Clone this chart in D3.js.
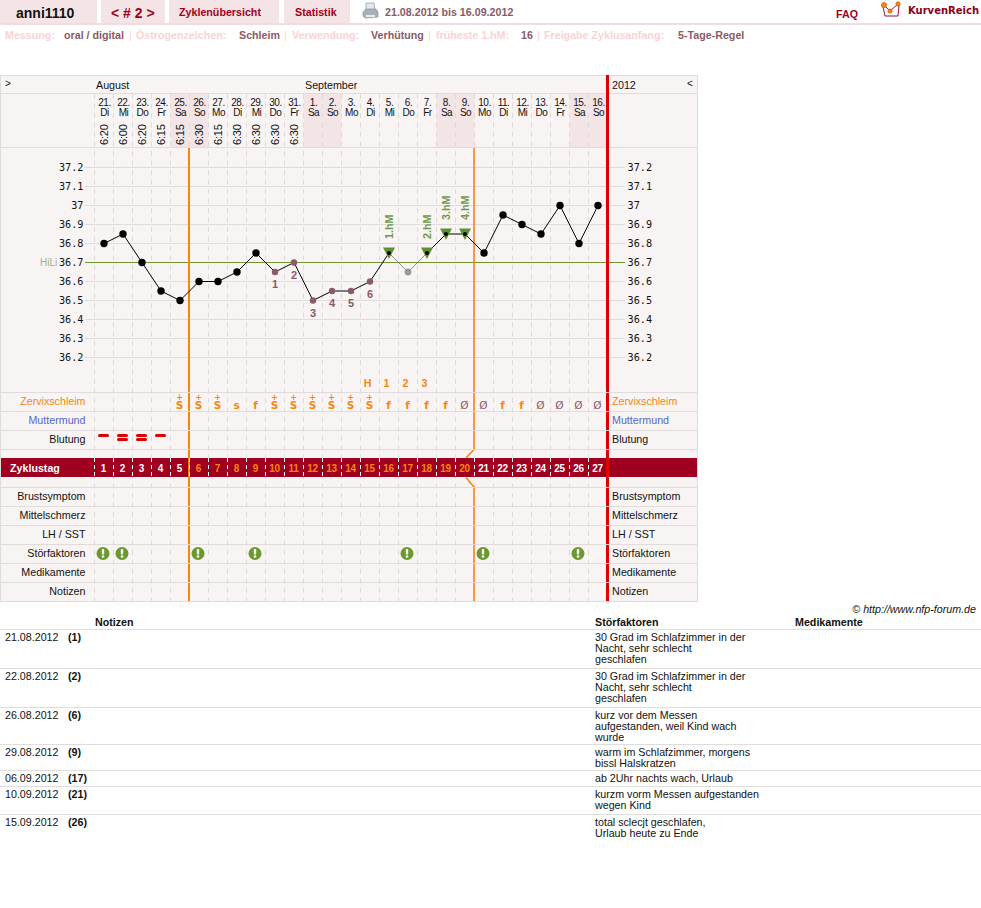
<!DOCTYPE html>
<html lang="de">
<head>
<meta charset="utf-8">
<title>anni1110 Zyklus 2</title>
<script src="https://cdn.jsdelivr.net/npm/d3@7/dist/d3.min.js"></script>
<style>
html,body{margin:0;padding:0;background:#fff;}
svg{display:block;font-family:"Liberation Sans",Arial,sans-serif;}
</style>
</head>
<body>
<svg id="chart" width="981" height="908"></svg>
<script>
// Cycle data
const cycleDays = d3.range(1, 28);
const dayNumbers = ["21.","22.","23.","24.","25.","26.","27.","28.","29.","30.","31.","1.","2.","3.","4.","5.","6.","7.","8.","9.","10.","11.","12.","13.","14.","15.","16."];
const weekdays = ["Di","Mi","Do","Fr","Sa","So","Mo","Di","Mi","Do","Fr","Sa","So","Mo","Di","Mi","Do","Fr","Sa","So","Mo","Di","Mi","Do","Fr","Sa","So"];
const measureTimes = ["6:20","6:00","6:20","6:15","6:15","6:30","6:15","6:30","6:30","6:30","6:30"];
const temperatures = [36.8,36.85,36.7,36.55,36.5,36.6,36.6,36.65,36.75,36.65,36.7,36.5,36.55,36.55,36.6,36.75,36.65,36.75,36.85,36.85,36.75,36.95,36.9,36.85,37,36.8,37];
const temperatureTicks = [37.2,37.1,37,36.9,36.8,36.7,36.6,36.5,36.4,36.3,36.2];
const coverLine = 36.7;
const lowDays = [10,11,12,13,14,15];
const lowLabels = ["1","2","3","4","5","6"];
const excludedDays = [17];
const peakDays = [16,18,19,20];
const peakLabels = ["1.hM","2.hM","3.hM","4.hM"];
const weekendDays = [5,6,12,13,19,20,26,27];
const mucus = [null,null,null,null,"S+","S+","S+","s","f","S+","S+","S+","S+","S+","S+","f","f","f","f","Ø","Ø","f","f","Ø","Ø","Ø","Ø"];
const peakCountDays = [15,16,17,18];
const peakCountLabels = ["H","1","2","3"];
const bleeding = [1,2,2,1];
const disturbanceDays = [1,2,6,9,17,21,26];
const upperRows = [["Zervixschleim","#f7860f"],["Muttermund","#5468c8"],["Blutung","#111"]];
const lowerRows = ["Brustsymptom","Mittelschmerz","LH / SST","Störfaktoren","Medikamente","Notizen"];
const noteRows = [
  ["21.08.2012","(1)",["30 Grad im Schlafzimmer in der","Nacht, sehr schlecht","geschlafen"]],
  ["22.08.2012","(2)",["30 Grad im Schlafzimmer in der","Nacht, sehr schlecht","geschlafen"]],
  ["26.08.2012","(6)",["kurz vor dem Messen","aufgestanden, weil Kind wach","wurde"]],
  ["29.08.2012","(9)",["warm im Schlafzimmer, morgens","bissl Halskratzen"]],
  ["06.09.2012","(17)",["ab 2Uhr nachts wach, Urlaub"]],
  ["10.09.2012","(21)",["kurzm vorm Messen aufgestanden","wegen Kind"]],
  ["15.09.2012","(26)",["total sclecjt geschlafen,","Urlaub heute zu Ende"]]
];
const noteRules = [629.5,668.5,707.5,744.5,770.5,786.5,814.5];
const settings = [
  ["Messung:",5,"oral / digital",64],["Östrogenzeichen:",136,"Schleim",239],
  ["Verwendung:",292,"Verhütung",371],["früheste 1.hM:",436,"16",521],
  ["Freigabe Zyklusanfang:",544,"5-Tage-Regel",678]
];
const settingSeparators = [129,284,428,537];

const svg = d3.select("#chart");
const PANEL = "#f9f4f4", RULE = "#e0dcdc", DASH = "#dedada", TINT = "#f3e4e6",
      ORANGE = "#f7860f", RED = "#dd0000", MAUVE = "#8a5a66", DARKRED = "#a0001f", GREEN = "#6a9a2e";
const BODY = 10.7;

// Day columns and temperature axis
const x = d3.scaleBand().domain(cycleDays).range([94.5, 607.5]);
const cx = d => x(d) + x.bandwidth() / 2;
const y = d3.scaleLinear().domain([36.2, 37.2]).range([357.5, 167.5]);

const text = (sel, s, px, py, o = {}) => sel.append("text").attr("x", px).attr("y", py)
  .attr("fill", o.fill || "#111").attr("font-size", o.size || BODY)
  .attr("font-weight", o.weight || null).attr("text-anchor", o.anchor || null)
  .attr("font-style", o.style || null).attr("font-family", o.family || null)
  .attr("letter-spacing", o.spacing == null ? null : o.spacing).text(s);
const hline = (g, x1, x2, yy, c = RULE, w = 1) => g.append("line").attr("x1", x1).attr("x2", x2)
  .attr("y1", yy).attr("y2", yy).attr("stroke", c).attr("stroke-width", w);

// Top navigation
const nav = svg.append("g");
[[0,97],[101,64],[169,110],[284,66]].forEach(([a, w]) =>
  nav.append("rect").attr("x", a).attr("y", 0).attr("width", w).attr("height", 23).attr("fill", "#f4e4e5"));
nav.append("rect").attr("x", 0).attr("y", 23).attr("width", 981).attr("height", 2).attr("fill", "#f4dcde");
text(nav, "anni1110", 16, 18, {size: 14, weight: "bold", fill: "#111"});
text(nav, "< # 2 >", 111, 18, {size: 14, weight: "bold", fill: DARKRED});
text(nav, "Zyklenübersicht", 179, 16, {weight: "bold", fill: DARKRED});
text(nav, "Statistik", 295, 16, {weight: "bold", fill: DARKRED});
text(nav, "21.08.2012 bis 16.09.2012", 385, 16, {weight: "bold", fill: MAUVE});
text(nav, "FAQ", 836, 18, {weight: "bold", fill: DARKRED});
text(nav, "KurvenReich", 908, 14, {size: 10, weight: "bold", fill: "#8a0020", family: "'DejaVu Sans'"});

// Printer icon
const printer = nav.append("g").attr("transform", "translate(363,3)");
printer.append("path").attr("d", "M3 0L11 0L12 7L3 7Z").attr("fill", "#e4e8ec").attr("stroke", "#8c98a4").attr("stroke-width", .7);
printer.append("path").attr("d", "M0 9L3 6L13 6L15 9L15 14L2 15L0 13Z").attr("fill", "#a8b0b8").attr("stroke", "#7d8790").attr("stroke-width", .6);
printer.append("rect").attr("x", 3).attr("y", 12).attr("width", 9).attr("height", 2).attr("fill", "#e8ecef");

// Logo mark
const logo = nav.append("g").attr("transform", "translate(881,2)");
logo.append("path").attr("d", "M0 14H24M19 0V17").attr("fill", "none").attr("stroke", "#eee");
logo.append("path").attr("d", "M2 5L4 14L17 14L18 3").attr("fill", "none").attr("stroke", "#a0104a").attr("stroke-width", 1);
logo.append("path").attr("d", "M3 3L9 9L17 2").attr("fill", "none").attr("stroke", "#a0104a").attr("stroke-width", 1);
[[3,3,2.6],[9,9,2.2],[17,2,2.2]].forEach(([a, b, r]) =>
  logo.append("circle").attr("cx", a).attr("cy", b).attr("r", r).attr("fill", "#f08a10").attr("stroke", "#c03020").attr("stroke-width", .5));

// Settings line
const settingsRow = svg.append("g");
settings.forEach(([k, kx, v, vx]) => {
  text(settingsRow, k, kx, 39, {weight: "bold", fill: "#fbd3d3"});
  text(settingsRow, v, vx, 39, {weight: "bold", fill: MAUVE});
});
settingSeparators.forEach(sx => text(settingsRow, "|", sx, 39, {fill: "#fbd3d3"}));

// Chart panel
const chart = svg.append("g");
chart.append("rect").attr("x", .5).attr("y", 75.5).attr("width", 697).attr("height", 526).attr("fill", PANEL).attr("stroke", RULE);
weekendDays.forEach(d => chart.append("rect").attr("x", x(d)).attr("y", 94).attr("width", x.bandwidth()).attr("height", 54).attr("fill", TINT));
hline(chart, 0, 697, 93.5);
hline(chart, 0, 697, 147.5);

// Temperature gridlines
temperatureTicks.forEach(t => hline(chart, 85, 625, y(t), RULE));

// Day separators
d3.range(0, 27).forEach(i => {
  const vx = Math.floor(94.5 + i * x.bandwidth()) + .5;
  chart.append("line").attr("x1", vx).attr("x2", vx).attr("y1", 94).attr("y2", 601)
    .attr("stroke", DASH).attr("stroke-dasharray", "5,4.5");
});

// Month and year captions
text(chart, ">", 5, 87, {size: 10});
text(chart, "August", 96, 89);
text(chart, "September", 305, 89);
text(chart, "2012", 612, 89);
text(chart, "<", 687, 87, {size: 10});

// Day header cells
cycleDays.forEach((d, i) => {
  text(chart, dayNumbers[i], cx(d) + .5, 105.5, {size: 10, anchor: "middle", spacing: -.5});
  text(chart, weekdays[i], cx(d) + .5, 115.5, {size: 10, anchor: "middle", spacing: -.5});
  if (measureTimes[i]) chart.append("text")
    .attr("transform", `translate(${cx(d) + 4},145) rotate(-90)`)
    .attr("font-size", 11).attr("fill", "#111").attr("letter-spacing", -.2).text(measureTimes[i]);
});

// Row labels both sides
const rowLabel = (s, ry, fill) => {
  text(chart, s, 85.5, ry, {anchor: "end", fill});
  text(chart, s, 612, ry, {fill});
};
upperRows.forEach(([s, c], i) => rowLabel(s, 405 + i * 19, c));
lowerRows.forEach((s, i) => rowLabel(s, 500 + i * 19));

// Temperature tick labels
const axisStyle = g => {
  g.select(".domain").remove();
  g.selectAll(".tick line").remove();
  g.selectAll("text").attr("font-family", "'DejaVu Sans Mono', monospace").attr("font-size", 10.2).attr("fill", "#111");
};
const tickFormat = d => String(d);
chart.append("g").attr("transform", "translate(83.5,0)")
  .call(d3.axisLeft(y).tickValues(temperatureTicks).tickFormat(tickFormat).tickSize(0).tickPadding(0)).call(axisStyle);
chart.append("g").attr("transform", "translate(627.5,0)")
  .call(d3.axisRight(y).tickValues(temperatureTicks).tickFormat(tickFormat).tickSize(0).tickPadding(0)).call(axisStyle);

// Cover line
hline(chart, 85, 625, y(coverLine), GREEN);
text(chart, "HiLi", 40, y(coverLine) + 3.5, {size: 10, fill: "#9cb08a"});

// Cycle day bar
chart.append("rect").attr("x", 1).attr("y", 458).attr("width", 696).attr("height", 19).attr("fill", DARKRED);
text(chart, "Zyklustag", 10, 472, {weight: "bold", fill: "#fff"});

// Phase boundaries
const orangeA = x(6) - .5, orangeB = x(21) - .5;
chart.append("line").attr("x1", orangeA).attr("x2", orangeA).attr("y1", 148).attr("y2", 601).attr("stroke", ORANGE).attr("stroke-width", 2);
chart.append("path").attr("d", `M${orangeB} 148V449.5L${orangeB - 8} 458`).attr("fill", "none").attr("stroke", ORANGE).attr("stroke-width", 1.6);
chart.append("path").attr("d", `M${orangeB - 8} 477.5L${orangeB} 487V601`).attr("fill", "none").attr("stroke", ORANGE).attr("stroke-width", 1.6);
const redX = x(27) + x.bandwidth();
chart.append("line").attr("x1", redX).attr("x2", redX).attr("y1", 75).attr("y2", 601).attr("stroke", RED).attr("stroke-width", 3);

// Row rules run over the phase boundaries
[392.5,411.5,430.5,449.5,487.5,506.5,525.5,544.5,563.5,582.5].forEach(r => hline(chart, 0, 697, r));

// Bar separators and day numbers
d3.range(0, 27).forEach(i => {
  const vx = Math.floor(94.5 + i * x.bandwidth()) + .5;
  chart.append("line").attr("x1", vx).attr("x2", vx).attr("y1", 458).attr("y2", 477)
    .attr("stroke", "#fff").attr("stroke-dasharray", "4,3");
});
cycleDays.forEach(d => text(chart, d, cx(d) - .5, 472, {size: 10, weight: "bold", anchor: "middle", spacing: -.2,
  fill: d >= 6 && d <= 20 ? "#f7860f" : "#fff"}));

// Temperature curve
const pts = cycleDays.map((d, i) => ({d, t: temperatures[i]}));
const line = d3.line().x(p => cx(p.d)).y(p => y(p.t));
pts.slice(1).forEach((p, i) => {
  const prev = pts[i];
  const grey = excludedDays.includes(p.d) || excludedDays.includes(prev.d);
  chart.append("path").attr("d", line([prev, p])).attr("fill", "none").attr("stroke", grey ? "#8f8f8f" : "#000").attr("stroke-width", 1);
});

// Peak triangles and labels
peakDays.forEach((d, i) => {
  const p = pts[d - 1], px = cx(d), py = y(p.t);
  chart.append("path").attr("d", `M${px - 6} ${py - 5.5}L${px + 6} ${py - 5.5}L${px} ${py + 6}Z`).attr("fill", "#5f9030");
  chart.append("text").attr("transform", `translate(${px + 4},${py - 14}) rotate(-90)`)
    .attr("font-size", 10.7).attr("font-weight", "bold").attr("fill", "#6f9a4a").text(peakLabels[i]);
});

// Temperature points
pts.forEach(p => {
  const low = lowDays.includes(p.d), ex = excludedDays.includes(p.d), peak = peakDays.includes(p.d);
  chart.append("circle").attr("cx", cx(p.d)).attr("cy", y(p.t)).attr("r", peak ? 2 : low ? 3.2 : ex ? 3.4 : 3.7)
    .attr("fill", ex ? "#9a9a9a" : low ? MAUVE : "#000");
});
lowDays.forEach((d, i) => text(chart, lowLabels[i], cx(d), y(pts[d - 1].t) + 16, {size: 11, weight: "bold", anchor: "middle", fill: MAUVE}));

// Peak day counters
peakCountDays.forEach((d, i) => text(chart, peakCountLabels[i], cx(d) - 2.5, 387, {size: 10.7, weight: "bold", anchor: "middle", fill: ORANGE}));

// Cervical mucus codes
const mucusFont = "'DejaVu Sans', sans-serif";
mucus.forEach((m, i) => {
  if (!m) return;
  const px = cx(i + 1) - .5;
  const t = chart.append("text").attr("text-anchor", "middle").attr("font-family", mucusFont)
    .attr("font-weight", m === "Ø" ? null : "bold").attr("fill", m === "Ø" ? MAUVE : ORANGE);
  if (m === "S+") t.append("tspan").attr("x", px).attr("y", 399.5).attr("font-size", 8).text("+");
  t.append("tspan").attr("x", px).attr("y", 408.5).attr("font-size", m === "Ø" ? 10.5 : 10.5).text(m === "S+" ? "S" : m);
});

// Bleeding strength
bleeding.forEach((b, i) => {
  const px = cx(i + 1) - .5;
  const bars = b === 1 ? [434] : [434, 438];
  bars.forEach(by => chart.append("rect").attr("x", px - 5.5).attr("y", by).attr("width", 11).attr("height", 3).attr("rx", 1.5).attr("fill", RED));
});

// Disturbance markers
disturbanceDays.forEach(d => {
  const g = chart.append("g").attr("transform", `translate(${cx(d) - 1},553.5)`);
  g.append("circle").attr("r", 6.5).attr("fill", GREEN);
  g.append("rect").attr("x", -1.2).attr("y", -4.5).attr("width", 2.4).attr("height", 5.5).attr("rx", 1.1).attr("fill", "#fff");
  g.append("circle").attr("cy", 3).attr("r", 1.3).attr("fill", "#fff");
});

// Notes table
const notes = svg.append("g");
text(notes, "© http://www.nfp-forum.de", 976, 613, {anchor: "end", style: "italic"});
text(notes, "Notizen", 95, 626, {weight: "bold"});
text(notes, "Störfaktoren", 595, 626, {weight: "bold"});
text(notes, "Medikamente", 795, 626, {weight: "bold"});
noteRules.forEach(r => hline(notes, 0, 981, r));
noteRows.forEach(([date, idx, lines], i) => {
  const top = noteRules[i];
  text(notes, date, 5, top + 11);
  text(notes, idx, 68, top + 11, {weight: "bold"});
  lines.forEach((l, j) => text(notes, l, 595, top + 11 + j * 11.2));
});
</script>
</body>
</html>
